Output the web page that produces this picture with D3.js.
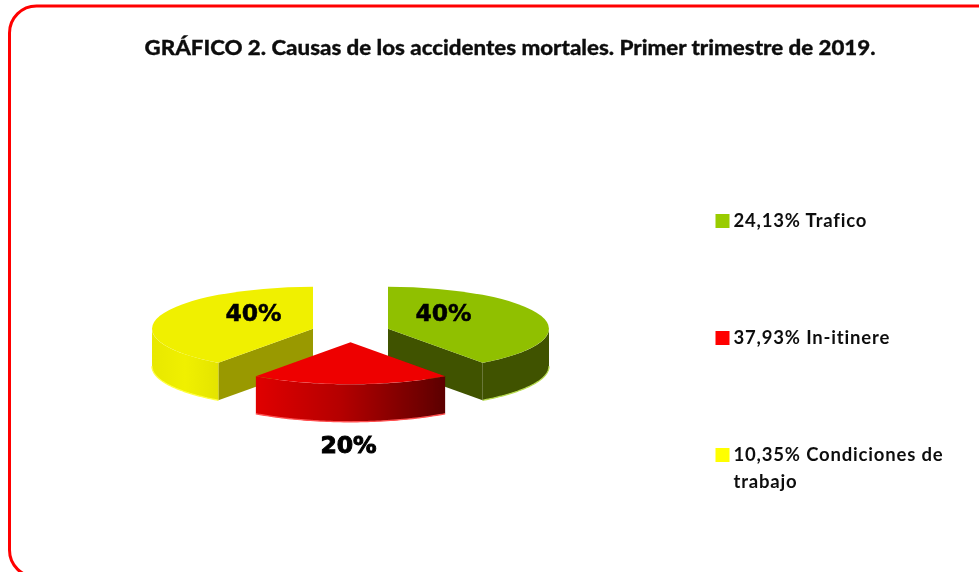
<!DOCTYPE html>
<html><head><meta charset="utf-8">
<script src="https://cdn.jsdelivr.net/npm/d3@7/dist/d3.min.js"></script>
<style>html,body{margin:0;padding:0;background:#fff;overflow:hidden}svg{display:block}</style>
</head><body><div id="c"></div>
<script>
const titleText = "GRÁFICO 2. Causas de los accidentes mortales. Primer trimestre de 2019.";
const categories = ["Trafico","In-itinere","Condiciones de trabajo"];
const values = [40,20,40];
const pctLabels = ["40%","20%","40%"];
const legendLines = [["24,13% Trafico"],["37,93% In-itinere"],["10,35% Condiciones de","trabajo"]];
const topColors = ["#90c000","#ee0000","#f0f000"];
const legendColors = ["#99cc00","#ff0000","#ffff00"];
const edgeColors = ["#b8dc50","#ff5050","#ffff40"];

const W=979,H=572;
const svg=d3.select("#c").append("svg").attr("width",W).attr("height",H);
const defs=svg.append("defs");
const blur=defs.append("filter").attr("id","soft").attr("x","-5%").attr("y","-20%").attr("width","110%").attr("height","140%");
blur.append("feGaussianBlur").attr("stdDeviation",0.45);

function grad(id,stops){
  const g=defs.append("linearGradient").attr("id",id).attr("x1",0).attr("x2",1).attr("y1",0).attr("y2",0);
  stops.forEach(s=>g.append("stop").attr("offset",s[0]).attr("stop-color",s[1]));
}
grad("wall0",[[0,"#3f5200"],[1,"#3f5200"]]);
grad("wall1",[[0,"#e00000"],[0.45,"#b40000"],[1,"#5c0000"]]);
grad("wall2",[[0,"#e8e800"],[0.5,"#f0f000"],[1,"#e4e400"]]);
const innerColors=["#3f5200","#a00000","#999900"];

svg.append("rect").attr("x",9.5).attr("y",6).attr("width",1040).attr("height",571)
  .attr("rx",27).attr("fill","#fff").attr("stroke","#ff0000").attr("stroke-width",3);

svg.append("text").attr("x",510).attr("y",55).attr("text-anchor","middle")
  .attr("font-family","Lato").attr("font-weight",900).attr("font-size",20.5)
  .attr("fill","#111").attr("stroke","#111").attr("stroke-width",0.3)
  .attr("filter","url(#soft)")
  .attr("textLength",731).attr("lengthAdjust","spacingAndGlyphs").text(titleText);

// pie geometry
const cx=350.5, cy=332, rx=161, ry=42, depth=37.5, explode=39.4;
const k=ry/rx;
const slices=d3.pie().sort(null).value(d=>d)(values);
const sx=d3.scaleLinear().domain([-1,1]).range([-rx,rx]);
const sy=d3.scaleLinear().domain([-1,1]).range([-ry,ry]);
const arcGen=d3.arc().innerRadius(0).outerRadius(rx);
const line=d3.line();

const g=svg.append("g").attr("filter","url(#soft)");
[2,0,1].forEach(i=>{
  const s=slices[i], mid=(s.startAngle+s.endAngle)/2;
  const ox=cx+explode*Math.sin(mid), oy=cy-explode*k*Math.cos(mid);
  const P=a=>[ox+sx(Math.sin(a)), oy-sy(Math.cos(a))];
  const gs=g.append("g");
  const a0=Math.max(s.startAngle,Math.PI/2), a1=Math.min(s.endAngle,3*Math.PI/2);
  const arcPts=d3.range(0,61).map(t=>P(a0+(a1-a0)*t/60));
  const lower=arcPts.map(p=>[p[0],p[1]+depth]).reverse();
  const radialA=(i===0)?s.endAngle:(i===2)?s.startAngle:null;
  if(radialA!==null){
    const e=P(radialA);
    gs.append("path").attr("d",line([[ox,oy],e,[e[0],e[1]+depth],[ox,oy+depth]])+"Z").attr("fill",innerColors[i]);
  }
  gs.append("path").attr("d",line(arcPts.concat(lower))+"Z").attr("fill",`url(#wall${i})`);
  gs.append("path").attr("d",line(arcPts.map(p=>[p[0],p[1]+depth])))
    .attr("fill","none").attr("stroke",edgeColors[i]).attr("stroke-width",1.3);
  gs.append("path").attr("d",arcGen(s)).attr("fill",topColors[i])
    .attr("transform",`translate(${ox},${oy}) scale(1,${k})`);
});

// pct labels
[[443.5,321],[348.5,453],[253.5,321]].forEach((p,i)=>{
  svg.append("text").attr("x",p[0]).attr("y",p[1]).attr("text-anchor","middle")
   .attr("font-family","DejaVu Sans").attr("font-weight",700).attr("font-size",23.5)
   .attr("fill","#000").attr("stroke","#000").attr("stroke-width",i===1?1:0.5)
   .attr("filter","url(#soft)").text(pctLabels[i]);
});

// legend
const legendY=d3.scalePoint().domain(categories).range([228,462]);
categories.forEach((c,i)=>{
  const y=legendY(c);
  svg.append("rect").attr("x",715.5).attr("y",y-14).attr("width",14).attr("height",14).attr("fill",legendColors[i]);
  legendLines[i].forEach((t,j)=>{
    svg.append("text").attr("x",733.5).attr("y",y-1+j*27).attr("font-family","Lato")
      .attr("font-weight",700).attr("font-size",18.5).attr("letter-spacing",0.82).attr("fill","#111")
      .attr("filter","url(#soft)").text(t);
  });
});
</script></body></html>
